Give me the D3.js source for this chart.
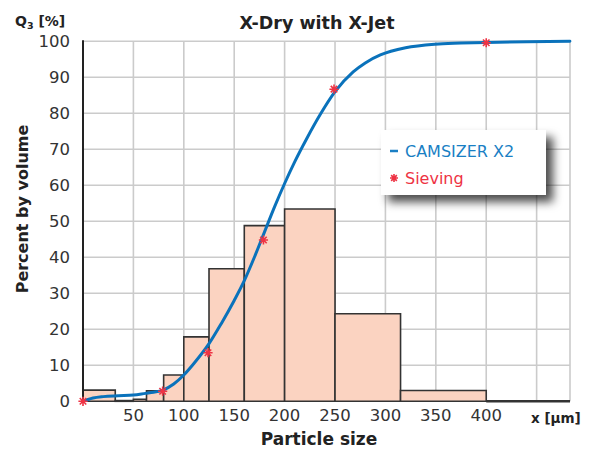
<!DOCTYPE html>
<html><head><meta charset="utf-8">
<script src="https://cdn.jsdelivr.net/npm/d3@7"></script>
<style>html,body{margin:0;padding:0;background:#fff;}svg{display:block;}</style>
</head><body>
<svg id="chart" width="602" height="450"></svg>
<script>
// ---- data ----
const binEdges = [0, 32, 50, 63, 80, 100, 125, 160, 200, 250, 315, 400, 500];
const binValues = [3.1, 0.2, 0.55, 2.9, 7.3, 17.9, 36.8, 48.8, 53.4, 24.3, 3.0, 0];
const curveX = [0, 5, 10, 20, 35, 50, 62, 70, 80, 90, 100, 110, 125, 137, 150, 160, 170, 180, 190, 200, 210, 222, 235, 250, 268, 280, 295, 320, 349, 375, 400, 440, 483];
const curveY = [0, 0.5, 0.9, 1.3, 1.55, 1.75, 2.2, 2.5, 3.2, 4.8, 7.3, 10.5, 16, 21.5, 28, 33.5, 40, 47, 54, 60.5, 66.5, 73, 79.5, 86, 91.5, 94, 96.2, 98.2, 99.2, 99.5, 99.7, 99.9, 100];
const sieveX = [0, 79, 124, 179, 249, 400];
const sieveY = [0, 2.8, 13.5, 44.8, 86.7, 99.6];
const xTicks = [50, 100, 150, 200, 250, 300, 350, 400];
const xGrid = [50, 100, 150, 200, 250, 300, 350, 400, 450];
const yTicks = [0, 10, 20, 30, 40, 50, 60, 70, 80, 90, 100];
const legendLabels = ["CAMSIZER X2", "Sieving"];

// ---- layout ----
const svg = d3.select("#chart");
const x = d3.scaleLinear().domain([0, 483.1]).range([83, 570]);
const y = d3.scaleLinear().domain([0, 100]).range([401.3, 41.3]);
const font = "'DejaVu Sans', Verdana, sans-serif";

const defs = svg.append("defs");
defs.append("clipPath").attr("id", "plotclip").append("rect")
  .attr("x", 83).attr("y", 30).attr("width", 487).attr("height", 380);
const f = defs.append("filter").attr("id", "shadow").attr("x", "-20%").attr("y", "-20%").attr("width", "150%").attr("height", "160%");
f.append("feDropShadow").attr("dx", 7).attr("dy", 7).attr("stdDeviation", 5)
  .attr("flood-color", "#000").attr("flood-opacity", 0.7);

// grid
const grid = svg.append("g");
grid.selectAll("line.h").data(yTicks).join("line")
  .attr("x1", x(0)).attr("x2", x(483.1)).attr("y1", d => y(d)).attr("y2", d => y(d))
  .attr("stroke", "#cbcbcb").attr("stroke-width", 1.6);
grid.selectAll("line.v").data(xGrid.concat([483.1])).join("line")
  .attr("x1", d => x(d)).attr("x2", d => x(d)).attr("y1", y(0)).attr("y2", y(100))
  .attr("stroke", "#cbcbcb").attr("stroke-width", 1.6);

// bars
const bins = binValues.map((v, i) => ({x0: binEdges[i], x1: binEdges[i + 1], v}));
svg.append("g").attr("clip-path", "url(#plotclip)")
  .selectAll("path").data(bins).join("path")
  .attr("d", d => `M${x(d.x0)},${y(0)}V${y(d.v)}H${x(d.x1)}V${y(0)}Z`)
  .attr("fill", "#fbd3c1").attr("stroke", "#333")
  .attr("stroke-width", d => d.v === 0 ? 2.5 : 1.6);

// left axis line
svg.append("line").attr("x1", x(0)).attr("x2", x(0)).attr("y1", y(0) + 1).attr("y2", y(100) - 1)
  .attr("stroke", "#222").attr("stroke-width", 2);

// ticks labels
svg.append("g").selectAll("text").data(yTicks).join("text")
  .attr("x", 70).attr("y", d => y(d) + 6)
  .attr("text-anchor", "end").attr("font-family", font).attr("font-size", 16.5).attr("fill", "#333")
  .text(d => d);
svg.append("g").selectAll("text").data(xTicks).join("text")
  .attr("x", d => x(d)).attr("y", 421)
  .attr("text-anchor", "middle").attr("font-family", font).attr("font-size", 16.5).attr("fill", "#333")
  .text(d => d);

// curve
const pts = curveX.map((d, i) => [d, curveY[i]]);
svg.append("path").datum(pts)
  .attr("d", d3.line().x(d => x(d[0])).y(d => y(d[1])).curve(d3.curveMonotoneX))
  .attr("fill", "none").attr("stroke", "#0a72bb").attr("stroke-width", 3).attr("stroke-linecap", "round");

// sieve stars
function star(r) {
  let p = "";
  for (let k = 0; k < 4; k++) {
    const a = Math.PI / 4 * k;
    p += `M${-r * Math.cos(a)},${-r * Math.sin(a)}L${r * Math.cos(a)},${r * Math.sin(a)}`;
  }
  return p;
}
svg.append("g").selectAll("path").data(sieveX.map((d, i) => [d, sieveY[i]])).join("path")
  .attr("transform", d => `translate(${x(d[0])},${y(d[1])})`)
  .attr("d", star(4.6)).attr("stroke", "#ee3344").attr("stroke-width", 1.6).attr("fill", "none");

// title and axis titles
svg.append("text").attr("x", 317).attr("y", 29).attr("text-anchor", "middle")
  .attr("font-family", font).attr("font-weight", "bold").attr("font-size", 17.5).attr("fill", "#222")
  .text("X-Dry with X-Jet");
const q = svg.append("text").attr("x", 15).attr("y", 26)
  .attr("font-family", font).attr("font-weight", "bold").attr("font-size", 14).attr("fill", "#222");
q.append("tspan").text("Q");
q.append("tspan").attr("font-size", 9.5).attr("dy", 3).text("3");
q.append("tspan").attr("dy", -3).text(" [%]");
svg.append("text").attr("x", 531).attr("y", 423)
  .attr("font-family", font).attr("font-weight", "bold").attr("font-size", 13.5).attr("fill", "#222")
  .text("x [µm]");
svg.append("text").attr("x", 319).attr("y", 445).attr("text-anchor", "middle")
  .attr("font-family", font).attr("font-weight", "bold").attr("font-size", 17).attr("fill", "#222")
  .text("Particle size");
svg.append("text").attr("transform", "translate(28,209) rotate(-90)").attr("text-anchor", "middle")
  .attr("font-family", font).attr("font-weight", "bold").attr("font-size", 16).attr("fill", "#222")
  .text("Percent by volume");

// legend
const lg = svg.append("g");
lg.append("rect").attr("x", 381).attr("y", 130).attr("width", 165).attr("height", 65)
  .attr("fill", "#fff").attr("filter", "url(#shadow)");
lg.append("line").attr("x1", 390).attr("x2", 398).attr("y1", 151).attr("y2", 151)
  .attr("stroke", "#1a7fc4").attr("stroke-width", 2.5);
lg.append("text").attr("x", 405).attr("y", 157).attr("font-family", font).attr("font-size", 16)
  .attr("fill", "#1a7fc4").text(legendLabels[0]);
lg.append("path").attr("transform", "translate(394,178)").attr("d", star(4))
  .attr("stroke", "#ee3344").attr("stroke-width", 1.6);
lg.append("text").attr("x", 405).attr("y", 184).attr("font-family", font).attr("font-size", 16)
  .attr("fill", "#ee3344").text(legendLabels[1]);
</script>
</body></html>
